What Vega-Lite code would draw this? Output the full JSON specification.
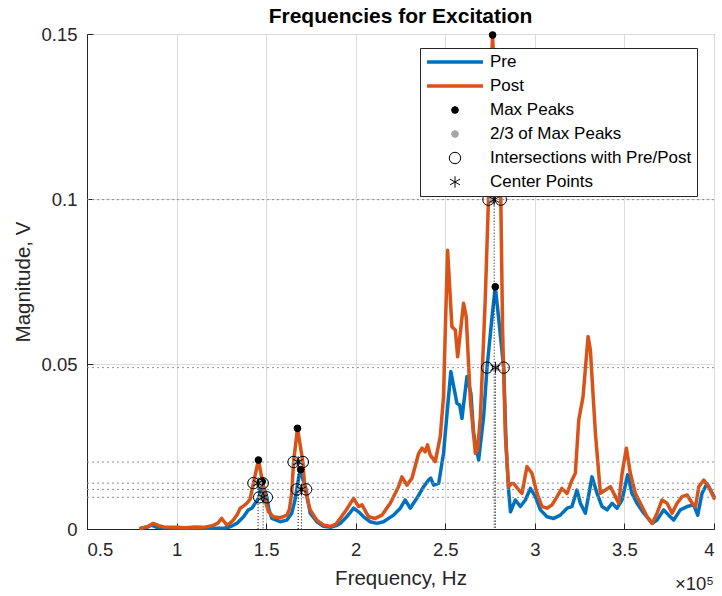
{
  "$schema": "https://vega.github.io/schema/vega-lite/v6.json",
  "width": 627,
  "height": 495,
  "autosize": "none",
  "padding": {"left": 87, "top": 34, "right": 8, "bottom": 67},
  "background": "white",
  "title": {"text": "Frequencies for Excitation", "fontSize": 21, "fontWeight": "bold", "font": "Liberation Sans", "color": "black", "anchor": "middle", "frame": "group", "offset": -2},
  "config": {
    "view": {"stroke": "#262626", "strokeWidth": 1},
    "axis": {"labelFont": "Liberation Sans", "titleFont": "Liberation Sans", "labelFontSize": 18.5, "titleFontSize": 20.5, "titleFontWeight": "normal", "labelColor": "#262626", "titleColor": "#262626", "domainColor": "#262626", "tickColor": "#262626", "gridColor": "#dcdcdc", "gridWidth": 1}
  },
  "datasets": {
    "post": [
      {"f":80000,"v":0.0002},{"f":84000,"v":0.0008},{"f":87000,"v":0.0017},{"f":90000,"v":0.0010},{"f":93000,"v":0.0006},{"f":100000,"v":0.0005},{"f":105000,"v":0.0004},{"f":110000,"v":0.0006},{"f":115000,"v":0.0005},{"f":120000,"v":0.0010},{"f":123000,"v":0.0018},{"f":125200,"v":0.0032},{"f":128000,"v":0.0012},{"f":130000,"v":0.0018},{"f":131700,"v":0.0027},{"f":134000,"v":0.0045},{"f":135500,"v":0.0063},{"f":137500,"v":0.0070},{"f":139200,"v":0.0078},{"f":141000,"v":0.0090},{"f":142900,"v":0.0139},{"f":145700,"v":0.0209},{"f":148100,"v":0.0139},{"f":149400,"v":0.0088},{"f":151300,"v":0.0052},{"f":154100,"v":0.0037},{"f":157800,"v":0.0034},{"f":161600,"v":0.0042},{"f":163000,"v":0.0060},{"f":164300,"v":0.0110},{"f":165300,"v":0.0203},{"f":167500,"v":0.0305},{"f":170500,"v":0.0203},{"f":171500,"v":0.0130},{"f":173000,"v":0.0090},{"f":174600,"v":0.0058},{"f":178300,"v":0.0027},{"f":182000,"v":0.0012},{"f":186000,"v":0.0008},{"f":189000,"v":0.0015},{"f":191300,"v":0.0032},{"f":195000,"v":0.0060},{"f":198800,"v":0.0093},{"f":201600,"v":0.0068},{"f":203500,"v":0.0073},{"f":207200,"v":0.0037},{"f":210900,"v":0.0032},{"f":214600,"v":0.0042},{"f":219300,"v":0.0078},{"f":223900,"v":0.0128},{"f":225800,"v":0.0158},{"f":228600,"v":0.0133},{"f":231400,"v":0.0154},{"f":235100,"v":0.0229},{"f":237000,"v":0.0245},{"f":238800,"v":0.0234},{"f":240100,"v":0.0255},{"f":241600,"v":0.0224},{"f":244400,"v":0.0204},{"f":247200,"v":0.0280},{"f":249000,"v":0.0400},{"f":250000,"v":0.0600},{"f":251300,"v":0.0845},{"f":253700,"v":0.0613},{"f":255600,"v":0.0603},{"f":256900,"v":0.0522},{"f":258500,"v":0.0600},{"f":260200,"v":0.0684},{"f":261700,"v":0.0643},{"f":264000,"v":0.0390},{"f":266800,"v":0.0229},{"f":268000,"v":0.0240},{"f":269600,"v":0.0340},{"f":272300,"v":0.0694},{"f":274100,"v":0.0998},{"f":275000,"v":0.1300},{"f":276400,"v":0.1497},{"f":278000,"v":0.1280},{"f":281000,"v":0.0998},{"f":282000,"v":0.0600},{"f":283500,"v":0.0290},{"f":285300,"v":0.0128},{"f":287000,"v":0.0138},{"f":288200,"v":0.0138},{"f":291000,"v":0.0118},{"f":292800,"v":0.0108},{"f":295600,"v":0.0189},{"f":298400,"v":0.0169},{"f":301200,"v":0.0108},{"f":304000,"v":0.0068},{"f":306800,"v":0.0063},{"f":309600,"v":0.0073},{"f":312400,"v":0.0098},{"f":315100,"v":0.0123},{"f":318000,"v":0.0108},{"f":320700,"v":0.0148},{"f":322600,"v":0.0169},{"f":324500,"v":0.0330},{"f":326900,"v":0.0401},{"f":329700,"v":0.0583},{"f":331000,"v":0.0542},{"f":333800,"v":0.0290},{"f":336600,"v":0.0108},{"f":339400,"v":0.0118},{"f":342200,"v":0.0128},{"f":345000,"v":0.0098},{"f":346800,"v":0.0078},{"f":348700,"v":0.0169},{"f":351100,"v":0.0245},{"f":353300,"v":0.0169},{"f":356100,"v":0.0108},{"f":358900,"v":0.0078},{"f":362700,"v":0.0037},{"f":365500,"v":0.0017},{"f":368200,"v":0.0048},{"f":371000,"v":0.0088},{"f":373800,"v":0.0078},{"f":376600,"v":0.0048},{"f":379400,"v":0.0078},{"f":382200,"v":0.0098},{"f":385000,"v":0.0103},{"f":387800,"v":0.0078},{"f":389700,"v":0.0068},{"f":391500,"v":0.0128},{"f":394300,"v":0.0148},{"f":397100,"v":0.0128},{"f":400000,"v":0.0093}
    ],
    "pre": [
      {"f":80000,"v":0.0002},{"f":84000,"v":0.0006},{"f":86100,"v":0.0012},{"f":89000,"v":0.0005},{"f":95000,"v":0.0003},{"f":100000,"v":0.0002},{"f":110000,"v":0.0002},{"f":120000,"v":0.0002},{"f":127000,"v":0.0003},{"f":130000,"v":0.0007},{"f":133600,"v":0.0017},{"f":137400,"v":0.0037},{"f":140100,"v":0.0058},{"f":142000,"v":0.0063},{"f":143900,"v":0.0078},{"f":146100,"v":0.0096},{"f":147000,"v":0.0125},{"f":147800,"v":0.0144},{"f":149000,"v":0.0120},{"f":150400,"v":0.0096},{"f":151500,"v":0.0060},{"f":153200,"v":0.0032},{"f":157800,"v":0.0022},{"f":161600,"v":0.0027},{"f":164300,"v":0.0048},{"f":166000,"v":0.0085},{"f":167100,"v":0.0120},{"f":168300,"v":0.0160},{"f":169300,"v":0.0180},{"f":170500,"v":0.0150},{"f":172300,"v":0.0120},{"f":173500,"v":0.0080},{"f":174600,"v":0.0048},{"f":178300,"v":0.0022},{"f":182000,"v":0.0008},{"f":186000,"v":0.0005},{"f":189000,"v":0.0010},{"f":191300,"v":0.0017},{"f":195000,"v":0.0037},{"f":198800,"v":0.0063},{"f":201600,"v":0.0052},{"f":204400,"v":0.0037},{"f":208100,"v":0.0022},{"f":211800,"v":0.0017},{"f":215500,"v":0.0022},{"f":221100,"v":0.0042},{"f":224900,"v":0.0063},{"f":227600,"v":0.0088},{"f":230400,"v":0.0063},{"f":234100,"v":0.0093},{"f":237900,"v":0.0128},{"f":240600,"v":0.0148},{"f":241900,"v":0.0154},{"f":243500,"v":0.0133},{"f":246300,"v":0.0138},{"f":249000,"v":0.0229},{"f":251800,"v":0.0400},{"f":253100,"v":0.0477},{"f":256500,"v":0.0381},{"f":258000,"v":0.0376},{"f":259300,"v":0.0335},{"f":262100,"v":0.0462},{"f":264300,"v":0.0411},{"f":265800,"v":0.0290},{"f":268600,"v":0.0209},{"f":271400,"v":0.0340},{"f":273300,"v":0.0489},{"f":276100,"v":0.0643},{"f":277900,"v":0.0734},{"f":279700,"v":0.0643},{"f":282600,"v":0.0489},{"f":284000,"v":0.0250},{"f":285300,"v":0.0120},{"f":286400,"v":0.0052},{"f":289100,"v":0.0088},{"f":291900,"v":0.0068},{"f":294700,"v":0.0088},{"f":297500,"v":0.0123},{"f":300300,"v":0.0098},{"f":303100,"v":0.0058},{"f":306800,"v":0.0037},{"f":310500,"v":0.0032},{"f":314200,"v":0.0042},{"f":318000,"v":0.0063},{"f":320700,"v":0.0068},{"f":323500,"v":0.0118},{"f":325400,"v":0.0078},{"f":328200,"v":0.0048},{"f":331900,"v":0.0158},{"f":334700,"v":0.0108},{"f":337500,"v":0.0068},{"f":340300,"v":0.0058},{"f":343100,"v":0.0078},{"f":345900,"v":0.0063},{"f":348700,"v":0.0088},{"f":351800,"v":0.0164},{"f":354200,"v":0.0108},{"f":357000,"v":0.0078},{"f":360800,"v":0.0048},{"f":365500,"v":0.0017},{"f":368200,"v":0.0027},{"f":371900,"v":0.0058},{"f":374700,"v":0.0042},{"f":377500,"v":0.0027},{"f":381200,"v":0.0058},{"f":385000,"v":0.0068},{"f":388700,"v":0.0073},{"f":390900,"v":0.0042},{"f":393300,"v":0.0108},{"f":396100,"v":0.0138},{"f":400000,"v":0.0098}
    ],
    "markers": [
      {"f":145700,"v":0.0209,"series":"Max Peaks"},{"f":147800,"v":0.0144,"series":"Max Peaks"},{"f":167500,"v":0.0305,"series":"Max Peaks"},{"f":169300,"v":0.0180,"series":"Max Peaks"},{"f":276400,"v":0.1497,"series":"Max Peaks"},{"f":277900,"v":0.0734,"series":"Max Peaks"},
      {"f":145700,"v":0.0139,"series":"2/3 of Max Peaks"},{"f":147800,"v":0.0096,"series":"2/3 of Max Peaks"},{"f":167500,"v":0.0203,"series":"2/3 of Max Peaks"},{"f":169300,"v":0.0120,"series":"2/3 of Max Peaks"},{"f":276400,"v":0.0998,"series":"2/3 of Max Peaks"},{"f":277900,"v":0.0489,"series":"2/3 of Max Peaks"},
      {"f":142900,"v":0.0139,"series":"Intersections with Pre/Post"},{"f":148100,"v":0.0139,"series":"Intersections with Pre/Post"},{"f":146100,"v":0.0096,"series":"Intersections with Pre/Post"},{"f":150400,"v":0.0096,"series":"Intersections with Pre/Post"},{"f":165300,"v":0.0203,"series":"Intersections with Pre/Post"},{"f":170500,"v":0.0203,"series":"Intersections with Pre/Post"},{"f":167100,"v":0.0120,"series":"Intersections with Pre/Post"},{"f":172300,"v":0.0120,"series":"Intersections with Pre/Post"},{"f":274100,"v":0.0998,"series":"Intersections with Pre/Post"},{"f":281000,"v":0.0998,"series":"Intersections with Pre/Post"},{"f":273300,"v":0.0489,"series":"Intersections with Pre/Post"},{"f":282600,"v":0.0489,"series":"Intersections with Pre/Post"},
      {"f":145500,"v":0.0139,"series":"Center Points"},{"f":148300,"v":0.0096,"series":"Center Points"},{"f":167900,"v":0.0203,"series":"Center Points"},{"f":169700,"v":0.0120,"series":"Center Points"},{"f":277300,"v":0.0998,"series":"Center Points"},{"f":278000,"v":0.0489,"series":"Center Points"}
    ],
    "levels": [{"level":0.0998},{"level":0.0489},{"level":0.0203},{"level":0.0139},{"level":0.0120},{"level":0.0096}],
    "verts": [{"f":145500,"top":0.0139},{"f":148300,"top":0.0096},{"f":167900,"top":0.0203},{"f":169700,"top":0.0120},{"f":277300,"top":0.0998},{"f":278000,"top":0.0489}]
  },
  "layer": [
    {
      "data": {"name": "pre"},
      "transform": [{"calculate": "'Pre'", "as": "series"}],
      "mark": {"type": "line", "strokeWidth": 3.5, "strokeJoin": "round", "strokeCap": "round"},
      "encoding": {
        "x": {"field": "f", "type": "quantitative", "scale": {"domain": [50000, 400000], "nice": false, "zero": false},
              "axis": {"title": "Frequency, Hz", "values": [50000,100000,150000,200000,250000,300000,350000,400000], "labelExpr": "format(datum.value/100000,'~g')", "grid": true, "ticks": true, "tickSize": -6, "labelPadding": 17, "titlePadding": 10}},
        "y": {"field": "v", "type": "quantitative", "scale": {"domain": [0, 0.15], "nice": false},
              "axis": {"title": "Magnitude, V", "values": [0, 0.05, 0.1, 0.15], "format": "~g", "grid": true, "ticks": true, "tickSize": -6, "labelPadding": 16, "titlePadding": 7}},
        "stroke": {"field": "series", "type": "nominal",
                   "scale": {"domain": ["Pre","Post","Max Peaks","2/3 of Max Peaks","Intersections with Pre/Post","Center Points"], "range": ["#0072BD","#D95319","black","#a6a6a6","black","black"]},
                   "legend": {"title": null, "orient": "none", "legendX": 333, "legendY": 14, "fillColor": "white", "strokeColor": "#262626", "padding": 5, "labelFontSize": 17, "labelFont": "Liberation Sans", "labelColor": "black", "labelOffset": 5, "rowPadding": 6, "clipHeight": 18, "labelLimit": 400}}
      }
    },
    {
      "data": {"name": "post"},
      "transform": [{"calculate": "'Post'", "as": "series"}],
      "mark": {"type": "line", "strokeWidth": 3.5, "strokeJoin": "round", "strokeCap": "round"},
      "encoding": {
        "x": {"field": "f", "type": "quantitative"},
        "y": {"field": "v", "type": "quantitative"},
        "stroke": {"field": "series", "type": "nominal",
                   "scale": {"domain": ["Pre","Post","Max Peaks","2/3 of Max Peaks","Intersections with Pre/Post","Center Points"], "range": ["#0072BD","#D95319","black","#a6a6a6","black","black"]},
                   "legend": {"title": null, "orient": "none", "legendX": 333, "legendY": 14, "fillColor": "white", "strokeColor": "#262626", "padding": 5, "labelFontSize": 17, "labelFont": "Liberation Sans", "labelColor": "black", "labelOffset": 5, "rowPadding": 6, "clipHeight": 18, "labelLimit": 400}}
      }
    },
    {
      "data": {"name": "levels"},
      "mark": {"type": "rule", "color": "#8c8c8c", "strokeWidth": 1, "strokeDash": [2, 3]},
      "encoding": {"y": {"field": "level", "type": "quantitative"}}
    },
    {
      "data": {"name": "verts"},
      "mark": {"type": "rule", "color": "black", "strokeWidth": 1, "strokeDash": [1, 2]},
      "encoding": {"x": {"field": "f", "type": "quantitative"}, "y": {"field": "top", "type": "quantitative"}, "y2": {"datum": 0}}
    },
    {
      "data": {"name": "markers"},
      "mark": {"type": "point", "opacity": 1},
      "encoding": {
        "x": {"field": "f", "type": "quantitative"},
        "y": {"field": "v", "type": "quantitative"},
        "stroke": {"field": "series", "type": "nominal",
                   "scale": {"domain": ["Pre","Post","Max Peaks","2/3 of Max Peaks","Intersections with Pre/Post","Center Points"], "range": ["#0072BD","#D95319","black","#a6a6a6","black","black"]},
                   "legend": {"title": null, "orient": "none", "legendX": 333, "legendY": 14, "fillColor": "white", "strokeColor": "#262626", "padding": 5, "labelFontSize": 17, "labelFont": "Liberation Sans", "labelColor": "black", "labelOffset": 5, "rowPadding": 6, "clipHeight": 18, "labelLimit": 400}},
        "fill": {"field": "series", "type": "nominal",
                 "scale": {"domain": ["Pre","Post","Max Peaks","2/3 of Max Peaks","Intersections with Pre/Post","Center Points"], "range": ["transparent","transparent","black","#a6a6a6","transparent","transparent"]},
                 "legend": {"title": null, "orient": "none", "legendX": 333, "legendY": 14, "fillColor": "white", "strokeColor": "#262626", "padding": 5, "labelFontSize": 17, "labelFont": "Liberation Sans", "labelColor": "black", "labelOffset": 5, "rowPadding": 6, "clipHeight": 18, "labelLimit": 400}},
        "shape": {"field": "series", "type": "nominal",
                  "scale": {"domain": ["Pre","Post","Max Peaks","2/3 of Max Peaks","Intersections with Pre/Post","Center Points"], "range": ["stroke","stroke","circle","circle","circle","M0,-1L0,1M-0.87,-0.5L0.87,0.5M-0.87,0.5L0.87,-0.5"]},
                  "legend": {"title": null, "orient": "none", "legendX": 333, "legendY": 14, "fillColor": "white", "strokeColor": "#262626", "padding": 5, "labelFontSize": 17, "labelFont": "Liberation Sans", "labelColor": "black", "labelOffset": 5, "rowPadding": 6, "clipHeight": 18, "labelLimit": 400}},
        "size": {"field": "series", "type": "nominal",
                 "scale": {"type": "ordinal", "domain": ["Pre","Post","Max Peaks","2/3 of Max Peaks","Intersections with Pre/Post","Center Points"], "range": [3136,3136,45,45,130,130]},
                 "legend": {"title": null, "orient": "none", "legendX": 333, "legendY": 14, "fillColor": "white", "strokeColor": "#262626", "padding": 5, "labelFontSize": 17, "labelFont": "Liberation Sans", "labelColor": "black", "labelOffset": 5, "rowPadding": 6, "clipHeight": 18, "labelLimit": 400}},
        "strokeWidth": {"field": "series", "type": "nominal",
                 "scale": {"type": "ordinal", "domain": ["Pre","Post","Max Peaks","2/3 of Max Peaks","Intersections with Pre/Post","Center Points"], "range": [3.5,3.5,1,1,1,1]},
                 "legend": {"title": null, "orient": "none", "legendX": 333, "legendY": 14, "fillColor": "white", "strokeColor": "#262626", "padding": 5, "labelFontSize": 17, "labelFont": "Liberation Sans", "labelColor": "black", "labelOffset": 5, "rowPadding": 6, "clipHeight": 18, "labelLimit": 400}}
      }
    },
    {
      "data": {"values": [{"label": "×10⁵"}]},
      "mark": {"type": "text", "align": "right", "baseline": "middle", "dy": 55, "fontSize": 18.5, "font": "Liberation Sans", "color": "#262626"},
      "encoding": {"x": {"datum": 400000}, "y": {"datum": 0}, "text": {"field": "label"}}
    }
  ]
}
